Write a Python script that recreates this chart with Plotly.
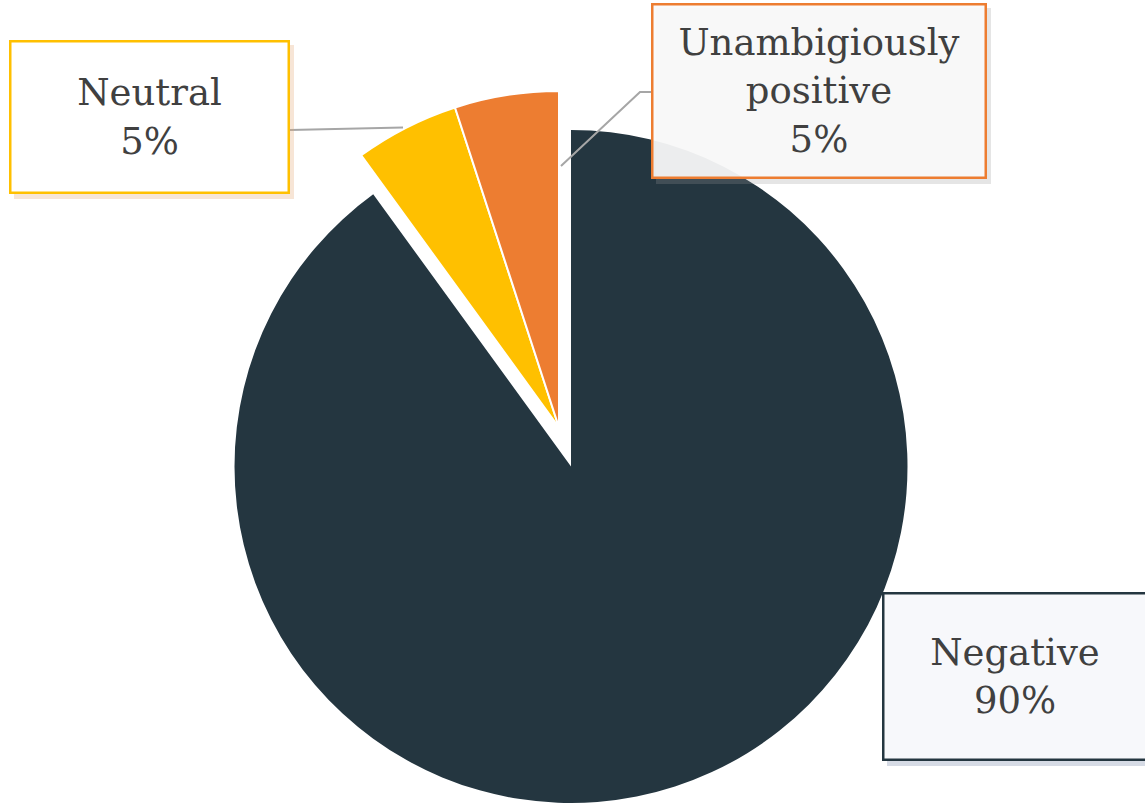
import plotly.graph_objects as go

# ---- data ----
categories = ["Negative", "Neutral", "Unambigiously positive"]
values = [90, 5, 5]
pct_labels = ["90%", "5%", "5%"]
colors = ["#243640", "#FFC000", "#ED7D31"]

W, H = 1145, 803


def px(x):
    return x / W


def py(y):
    return 1 - y / H


fig = go.Figure()

# main pie (negative slice)
R = 336.5
cx, cy = 571, 466.5
half = 400
fig.add_trace(go.Pie(
    labels=categories, values=values, sort=False, direction="clockwise", rotation=0,
    marker=dict(colors=[colors[0], "rgba(0,0,0,0)", "rgba(0,0,0,0)"],
                line=dict(color="white", width=[0, 0, 0])),
    textinfo="none", hoverinfo="label+percent", showlegend=False,
    domain=dict(x=[px(cx - half), px(cx + half)],
                y=[max(0, py(cy + R)), py(cy - R)]),
))

# exploded group (neutral + positive), shifted together
dx, dy = -12, -39
fig.add_trace(go.Pie(
    labels=categories, values=values, sort=False, direction="clockwise", rotation=0,
    marker=dict(colors=["rgba(0,0,0,0)", colors[1], colors[2]],
                line=dict(color="white", width=[0, 2, 2])),
    textinfo="none", hoverinfo="label+percent", showlegend=False,
    domain=dict(x=[px(cx + dx - half), px(cx + dx + half)],
                y=[py(cy + dy + R), py(cy + dy - R)]),
))

shapes = []
# leader lines
shapes.append(dict(type="line", xref="paper", yref="paper",
                   x0=px(290), y0=py(130), x1=px(403), y1=py(127.5),
                   line=dict(color="#A6A6A6", width=2), layer="above"))
shapes.append(dict(type="path", xref="paper", yref="paper",
                   path=f"M {px(561)},{py(166)} L {px(640)},{py(92)} L {px(652)},{py(92)}",
                   line=dict(color="#A6A6A6", width=2), layer="above"))

# label boxes: (center x, center y, width, height, border colour, bg, shadow, index)
boxes = [
    (1015, 676.5, 264, 167, colors[0], "rgba(248,249,251,0.97)", "rgba(90,110,150,0.25)", 0),
    (149.5, 117, 279, 152, colors[1], "rgba(255,255,255,1)", "rgba(230,170,120,0.3)", 1),
    (819, 91, 334, 174, colors[2], "rgba(250,250,250,0.93)", "rgba(150,150,150,0.25)", 2),
]
annotations = []
for bx, by, bw, bh, bc, bg, sh, i in boxes:
    shapes.append(dict(type="rect", xref="paper", yref="paper",
                       x0=px(bx - bw / 2 + 4), x1=px(bx + bw / 2 + 5),
                       y0=py(by + bh / 2 + 6), y1=py(by - bh / 2 + 4),
                       fillcolor=sh, line=dict(width=0), layer="above"))
    annotations.append(dict(
        xref="paper", yref="paper", x=px(bx), y=py(by), xanchor="center", yanchor="middle",
        text=f"{categories[i].replace('Unambigiously ', 'Unambigiously<br>')}<br>{pct_labels[i]}",
        showarrow=False, align="center",
        font=dict(family="DejaVu Serif, serif", size=37, color="#404040"),
        width=bw - 3, height=bh - 3, borderpad=0,
        bordercolor=bc, borderwidth=2.5, bgcolor=bg,
    ))

fig.update_layout(
    width=W, height=H, margin=dict(l=0, r=0, t=0, b=0),
    paper_bgcolor="white", plot_bgcolor="white",
    shapes=shapes, annotations=annotations, showlegend=False,
)

fig.write_html("out.html", config={"displayModeBar": False},
               post_script="document.body.style.margin='0';document.body.style.overflow='hidden';")
